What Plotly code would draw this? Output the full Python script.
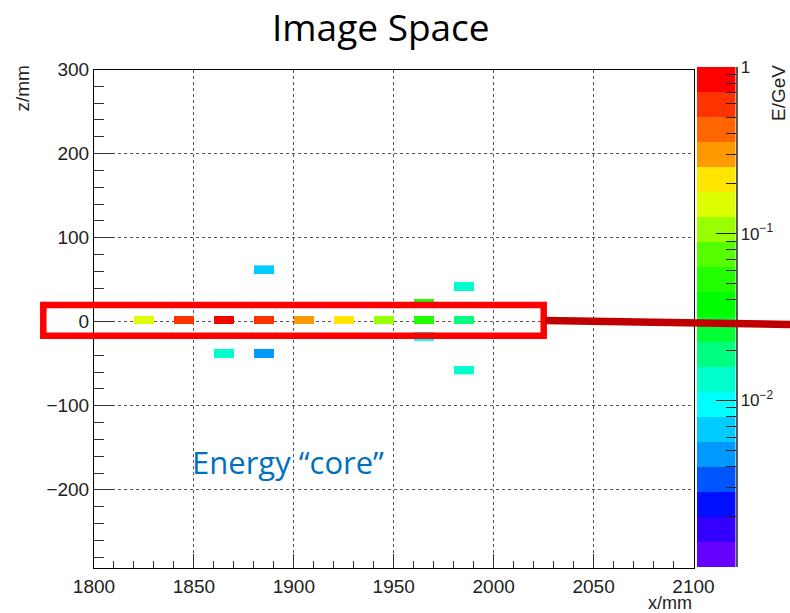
import numpy as np
import plotly.graph_objects as go

# ---------------- data ----------------
cell_x = [1825, 1845, 1865, 1885, 1905, 1925, 1945, 1965, 1985,
          1965, 1965, 1985, 1985, 1865, 1885, 1885]          # mm (bin centres)
cell_z = [2, 2, 2, 2, 2, 2, 2, 2, 2,
          22, -18, 42, -58, -38, -38, 62]                    # mm (bin centres)
cell_E = [0.15, 0.6, 0.85, 0.6, 0.3, 0.21, 0.105, 0.05, 0.019,
          0.05, 0.0094, 0.013, 0.013, 0.013, 0.0047, 0.0067]  # GeV

x_bins = list(range(1825, 1986, 10))
z_bins = list(range(-58, 63, 10))

band_colors = ['#6600ff', '#3300ff', '#0010ff', '#0055ff', '#0099ff',
               '#00ccff', '#00ffff', '#00ffcc', '#00ff80', '#00ff33',
               '#00ff00', '#22ff00', '#55ff00', '#99ff00', '#ddff00',
               '#ffe600', '#ff9900', '#ff6600', '#ff3300', '#ff0000']
logE_min, logE_max = -3.0, 0.0

cbar_tickvals = [-2, -1, 0]
cbar_ticktext = ['10<sup>−2</sup>', '10<sup>−1</sup>', '1']

# ---------------- helpers ----------------
W, H = 790, 613
def px(x):
    return x / W
def py(y):
    return 1 - y / H

n = len(band_colors)
cs = []
for k, c in enumerate(band_colors):
    cs.append([k / n, c])
    cs.append([(k + 1) / n, c])

Z = np.full((len(z_bins), len(x_bins)), np.nan)
for x, z, e in zip(cell_x, cell_z, cell_E):
    Z[z_bins.index(z), x_bins.index(x)] = np.log10(e)

edges = np.linspace(logE_min, logE_max, n + 1)
mids = (edges[:-1] + edges[1:]) / 2
minor_vals = [np.log10(m * 10.0 ** p) for p in (-3, -2, -1) for m in range(2, 10)]

fig = go.Figure()
fig.add_trace(go.Heatmap(x=x_bins, y=z_bins, z=Z, colorscale=cs,
                         zmin=logE_min, zmax=logE_max, showscale=False,
                         hoverinfo='skip', xaxis='x', yaxis='y'))
fig.add_trace(go.Heatmap(x=[0, 1], y=edges, z=[[m] for m in mids], colorscale=cs,
                         zmin=logE_min, zmax=logE_max, showscale=False,
                         hoverinfo='skip', xaxis='x2', yaxis='y2'))

tickfont = dict(family='Liberation Sans, Arial, sans-serif', size=19, color='#222')
common = dict(ticks='inside', tickcolor='#333', tickwidth=1, showline=True,
              linecolor='black', linewidth=1, mirror=True, showgrid=True,
              gridcolor='#555', griddash='dot', gridwidth=1, zeroline=False,
              tickfont=tickfont, automargin=False)

fig.update_layout(
    width=W, height=H, autosize=False,
    margin=dict(l=0, r=0, t=0, b=0, pad=0),
    paper_bgcolor='white', plot_bgcolor='white',
    showlegend=False,
    xaxis=dict(domain=[px(94), px(693.5)], range=[1800, 2100], anchor='y',
               tick0=1800, dtick=50, ticklen=14, ticklabelstandoff=2,
               minor=dict(tick0=1800, dtick=10, ticks='inside', ticklen=7,
                          tickcolor='#333', showgrid=False),
               **common),
    yaxis=dict(domain=[py(567.5), py(69.5)], range=[-292.4, 300], anchor='x',
               tick0=0, dtick=100, ticklen=19,
               minor=dict(tick0=0, dtick=20, ticks='inside', ticklen=10,
                          tickcolor='#333', showgrid=False),
               **common),
    xaxis2=dict(domain=[px(697), px(735.5)], range=[0, 1], anchor='y2',
                visible=False, automargin=False),
    yaxis2=dict(domain=[py(567), py(67)], range=[logE_min, logE_max], anchor='x2',
                side='right', tickmode='array', tickvals=cbar_tickvals,
                ticktext=cbar_ticktext, ticks='inside', ticklen=20,
                tickcolor='#222', tickwidth=1, showline=True, linecolor='#555',
                linewidth=1.5, showgrid=False, zeroline=False, automargin=False,
                minor=dict(tickmode='array', tickvals=minor_vals, ticks='inside',
                           ticklen=10, tickcolor='#222', showgrid=False),
                tickfont=dict(family='Liberation Sans, Arial, sans-serif',
                              size=17, color='#222')),
)

ann_font = dict(family='Liberation Sans, Arial, sans-serif', size=19, color='#222')
fig.add_annotation(text='Image Space', x=px(381), y=py(26), xref='paper', yref='paper',
                   xanchor='center', yanchor='middle', showarrow=False,
                   font=dict(family='Open Sans, sans-serif', size=37, color='black'))
fig.add_annotation(text='z/mm', x=px(22.5), y=py(89), xref='paper', yref='paper',
                   xanchor='center', yanchor='middle', textangle=-90,
                   showarrow=False, font=ann_font)
fig.add_annotation(text='x/mm', x=px(694), y=py(603), xref='paper', yref='paper',
                   xanchor='right', yanchor='middle', showarrow=False,
                   font=dict(family='Liberation Sans, Arial, sans-serif', size=18,
                             color='#222'))
fig.add_annotation(text='E/GeV', x=px(779), y=py(93), xref='paper', yref='paper',
                   xanchor='center', yanchor='middle', textangle=-90,
                   showarrow=False, font=ann_font)
fig.add_annotation(text='Energy “core”', x=px(190), y=py(462), xref='paper',
                   yref='paper', xanchor='left', yanchor='middle', showarrow=False,
                   font=dict(family='Open Sans, sans-serif', size=31, color='#0070c0'))

fig.add_shape(type='rect', xref='paper', yref='paper',
              x0=px(43.3), x1=px(543.7), y0=py(305), y1=py(335.7),
              line=dict(color='#ff0000', width=6.5), layer='above')
fig.add_shape(type='line', xref='paper', yref='paper',
              x0=px(545), y0=py(320.5), x1=px(792), y1=py(324.5),
              line=dict(color='#c00000', width=7.5), layer='above')

fig.write_html('out.html', config={'displayModeBar': False})
